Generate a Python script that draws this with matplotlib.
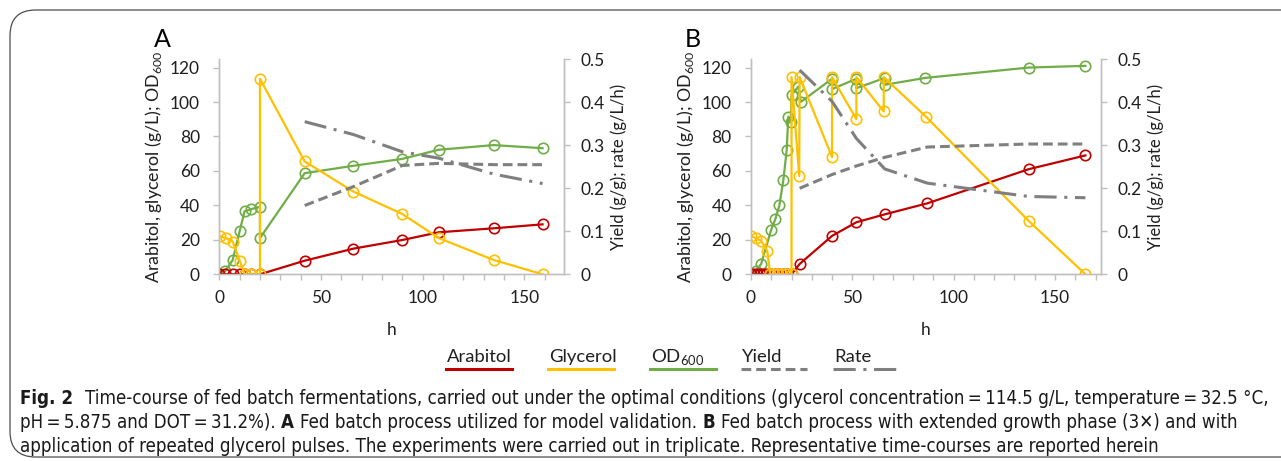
import matplotlib
matplotlib.use('Agg')
import matplotlib.pyplot as plt
from matplotlib import font_manager as fm
from matplotlib.lines import Line2D
from matplotlib.patches import FancyBboxPatch
from matplotlib.ticker import MultipleLocator, FuncFormatter

# ---- data ----
# panel A
a_arab_h = [0, 3, 6.5, 10, 12.5, 15.5, 20, 42, 66, 90, 108, 135, 159]
a_arab = [0, 0, 0, 0, 0, 0, 0, 7.9, 14.9, 19.9, 24.4, 26.7, 29]
a_glyc_h = [0.5, 3.3, 6.6, 10, 12.5, 15.5, 20, 20, 42, 66, 90, 108, 135, 159]
a_glyc = [22, 21, 19, 8, 0, 0, 0, 113.5, 65.5, 48, 35, 21, 8.3, 0]
a_od_h = [0, 3, 6.6, 10, 12.4, 15.6, 20, 20, 42, 66, 90, 108, 135, 159]
a_od = [0, 2, 8.3, 25, 36.5, 37.8, 39.2, 21, 58.7, 63, 67, 72.3, 75, 73.2]
a_gray_h = [42, 66, 90, 108, 135, 159]
a_yield = [0.16, 0.204, 0.253, 0.258, 0.255, 0.255]
a_rate = [0.355, 0.325, 0.285, 0.27, 0.233, 0.211]

# panel B
b_arab_h = [0, 1.5, 3, 4.5, 6, 7.5, 10, 12, 14, 16, 18, 20, 24, 40, 52, 66, 87, 137, 165]
b_arab = [0, 0, 0, 0, 0, 0, 0, 0, 0, 0, 0, 0, 6, 22.3, 30.2, 34.8, 41.2, 61, 69]
b_glyc_h = [0, 2.5, 5, 8, 9.5, 11.5, 13.5, 15.5, 17.5, 20, 20, 23.8, 24, 40, 40, 52, 52, 65.5, 65.5, 86.5, 137, 165]
b_glyc = [22, 21, 19.4, 13.7, 0, 0, 0, 0, 0, 0, 114.5, 57, 114.5, 68, 114.5, 90, 114.5, 94.5, 114.5, 91.3, 31, 0]
b_od_h = [0, 2.5, 5, 10, 12, 14, 16, 17.6, 18.4, 19.6, 20, 23.4, 24.5, 40, 40, 52, 52, 66, 66, 86, 137, 165]
b_od = [0, 2, 6, 26, 32, 40, 55, 72, 91.5, 88.6, 104, 109, 100, 113.5, 107.5, 113.5, 108, 114, 110, 114, 120, 121]
b_gray_h = [24, 40, 52, 66, 87, 137, 165]
b_yield = [0.2, 0.232, 0.252, 0.272, 0.296, 0.303, 0.303]
b_rate = [0.475, 0.402, 0.316, 0.245, 0.212, 0.181, 0.178]

RED, YEL, GRN, GRY = '#C00000', '#FFC000', '#70AD47', '#7F7F7F'
SPINE = '#BFBFBF'
TXT = '#1F1F1F'

plt.rcParams['font.family'] = ['Lato', 'DejaVu Sans']
plt.rcParams['mathtext.fontset'] = 'custom'
plt.rcParams['mathtext.rm'] = 'Lato'
plt.rcParams['lines.scale_dashes'] = False

W, H = 1281, 461
fig = plt.figure(figsize=(W / 100, H / 100), dpi=100)

DASH = (0, (7, 3.6))
DASHDOT = (0, (16, 5.5, 2.2, 5.5))


def panel(left_px, right_px, xmax, label, arab, glyc, od, gray):
    ax = fig.add_axes([left_px / W, (H - 274.3) / H, (right_px - left_px) / W, 215 / H])
    ax.set_facecolor('none')
    mk = dict(marker='o', markersize=7.5, markerfacecolor='none', markeredgewidth=1.2, linewidth=1.6)
    ax.plot(od[0], od[1], color=GRN, zorder=2, **mk)
    ax.plot(arab[0], arab[1], color=RED, zorder=3, **mk)
    ax.plot(glyc[0], glyc[1], color=YEL, zorder=4, **mk)
    ax.set_xlim(0, xmax)
    ax.set_ylim(0, 124.8)
    ax.set_yticks(range(0, 121, 20))
    ax.xaxis.set_major_locator(MultipleLocator(50))
    ax.xaxis.set_minor_locator(MultipleLocator(10))
    for s in ['left', 'bottom', 'right']:
        ax.spines[s].set_color(SPINE)
        ax.spines[s].set_linewidth(1.0)
    ax.spines['top'].set_visible(False)
    ax.tick_params(which='both', color=SPINE, length=4, width=1.0, labelsize=12.5, labelcolor=TXT)
    ax.tick_params(axis='x', pad=7)
    ax.tick_params(axis='y', pad=10)
    ax.set_ylabel('Arabitol, glycerol (g/L); OD$_{600}$', fontsize=12.8, color=TXT, labelpad=4)
    ax.set_xlabel('h', fontsize=12.5, color=TXT, labelpad=12)
    ax.text(-0.19, 1.04, label, transform=ax.transAxes, fontsize=18, color='black', va='bottom')

    ax2 = ax.twinx()
    ax2.plot(gray[0], gray[1], color=GRY, linewidth=2.2, linestyle=DASH)
    ax2.plot(gray[0], gray[2], color=GRY, linewidth=2.2, linestyle=DASHDOT)
    ax2.set_ylim(0, 0.5)
    ax2.set_yticks([0, 0.1, 0.2, 0.3, 0.4, 0.5])
    ax2.yaxis.set_major_formatter(FuncFormatter(lambda v, p: '0' if v == 0 else f'{v:.1f}'))
    for s in ['left', 'bottom', 'right']:
        ax2.spines[s].set_color(SPINE)
        ax2.spines[s].set_linewidth(1.0)
    ax2.spines['top'].set_visible(False)
    ax2.tick_params(color=SPINE, length=4, width=1.0, labelsize=12.5, labelcolor=TXT, pad=8)
    ax2.set_ylabel('Yield (g/g); rate (g/L/h)', fontsize=12, color=TXT, labelpad=4)
    return ax


panel(219.3, 564.3, 169.7, 'A',
      (a_arab_h, a_arab), (a_glyc_h, a_glyc), (a_od_h, a_od), (a_gray_h, a_yield, a_rate))
panel(751, 1101, 172.7, 'B',
      (b_arab_h, b_arab), (b_glyc_h, b_glyc), (b_od_h, b_od), (b_gray_h, b_yield, b_rate))

# legend (text above a short line sample)
legend_items = [('Arabitol', RED, '-'), ('Glycerol', YEL, '-'), ('OD$_{600}$', GRN, '-'),
                ('Yield', GRY, DASH), ('Rate', GRY, DASHDOT)]
legend_x = [446, 548, 650, 741, 833]
for (name, col, ls), x0 in zip(legend_items, legend_x):
    fig.text((x0 + 1) / W, 1 - 362 / H, name, fontsize=13.3, color=TXT, va='baseline')
    fig.add_artist(Line2D([x0 / W, (x0 + 66) / W], [1 - 368.5 / H] * 2, color=col,
                          linewidth=2.2, linestyle=ls, transform=fig.transFigure))

# framed caption
box = FancyBboxPatch((10 / W, 4 / H), 1300 / W, 447 / H, boxstyle='round,pad=0,rounding_size=0.02',
                     transform=fig.transFigure, facecolor='none', edgecolor='#4D4D4D',
                     linewidth=0.9, mutation_aspect=W / H)
fig.add_artist(box)


# caption font: look for a narrow / condensed sans face
def stretch_of(f):
    s = f.stretch
    if isinstance(s, str):
        return s
    return 'condensed' if s < 500 else 'normal'


def pick(bold):
    best, best_score = None, -1
    for f in fm.fontManager.ttflist:
        w = f.weight if isinstance(f.weight, int) else (700 if f.weight == 'bold' else 400)
        if f.style != 'normal' or abs(w - (700 if bold else 400)) > 50:
            continue
        nm = f.name.lower() + ' ' + f.fname.lower()
        st = stretch_of(f)
        score = 0
        if 'narrow' in nm or st in ('condensed', 'narrow') or 'condensed' in nm:
            score = 3
        elif st == 'semi-condensed' or 'semicondensed' in nm:
            score = 2
        if 'extra' in nm or 'ultra' in nm or 'mono' in nm or 'serif' in nm.replace('sans', ''):
            score -= 2
        if score > best_score:
            best, best_score = f, score
    if best is None or best_score <= 0:
        return fm.FontProperties(family='Roboto', weight='bold' if bold else 'normal')
    return fm.FontProperties(fname=best.fname)


cap_reg = pick(False)
cap_bold = pick(True)

caption_lines = [
    [('Fig. 2', True, 2), ('Time-course of fed batch fermentations, carried out under the optimal conditions '
                           '(glycerol concentration\u2009=\u2009114.5 g/L, temperature\u2009=\u200932.5 \u00b0C,', False, 0)],
    [('pH\u2009=\u20095.875 and DOT\u2009=\u200931.2%).', False, 1), ('A', True, 1),
     ('Fed batch process utilized for model validation.', False, 1), ('B', True, 1),
     ('Fed batch process with extended growth phase (3\u2715) and with', False, 0)],
    [('application of repeated glycerol pulses. The experiments were carried out in triplicate. '
      'Representative time-courses are reported herein', False, 0)],
]
cap_y = [398, 422, 446]
r = fig.canvas.get_renderer()


def lay_out(runs, y, size, keep=True):
    x = 20.0
    made = []
    for txt, bold, gap in runs:
        fp = (cap_bold if bold else cap_reg).copy()
        fp.set_size(size)
        t = fig.text(x / W, 1 - y / H, txt, fontproperties=fp, color='#1a1a1a', va='center')
        made.append(t)
        x += t.get_window_extent(r).width
        if gap:
            a = fig.text(0, 0, 'a a', fontproperties=fp)
            b = fig.text(0, 0, 'aa', fontproperties=fp)
            x += gap * (a.get_window_extent(r).width - b.get_window_extent(r).width)
            a.remove()
            b.remove()
    if not keep:
        for t in made:
            t.remove()
    return x - 20.0


# size the caption so that its first line spans the width of the original one
cap_size = 12 * 1255 / lay_out(caption_lines[0], cap_y[0], 12, keep=False)
for runs, y in zip(caption_lines, cap_y):
    lay_out(runs, y, cap_size)

plt.savefig('out.png', dpi=100)
